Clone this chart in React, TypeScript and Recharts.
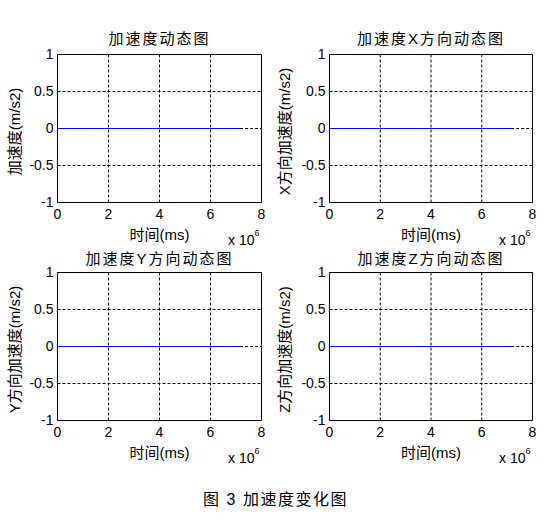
import React from 'react';
import { LineChart, Line, XAxis, YAxis, CartesianGrid, ReferenceArea, ReferenceLine } from 'recharts';

// ---- data ----
const TIME_MS = [0, 7160000];
const ACCEL = [0, 0];
const ACCEL_X = [0, 0];
const ACCEL_Y = [0, 0];
const ACCEL_Z = [0, 0];

const X_TICKS = [0, 2000000, 4000000, 6000000, 8000000];
const X_TICK_LABELS = ['0', '2', '4', '6', '8'];
const Y_TICKS = [-1, -0.5, 0, 0.5, 1];
const Y_TICK_LABELS = ['-1', '-0.5', '0', '0.5', '1'];

const TITLES = ['加速度动态图', '加速度X方向动态图', '加速度Y方向动态图', '加速度Z方向动态图'];
const Y_LABELS = ['加速度(m/s2)', 'X方向加速度(m/s2)', 'Y方向加速度(m/s2)', 'Z方向加速度(m/s2)'];
const X_LABEL = '时间(ms)';
const X_EXP_BASE = 'x 10';
const X_EXP = '6';
const CAPTION = '图 3 加速度变化图';

const SERIES = [ACCEL, ACCEL_X, ACCEL_Y, ACCEL_Z];

// ---- layout ----
const FONT = "'Liberation Sans', Arial, 'Noto Sans CJK SC', sans-serif";
const LAYOUT = [
  { L: 57, T: 54, W: 204, H: 148, ylx: 14.5, tt: 30.5 },
  { L: 329, T: 54, W: 203, H: 148, ylx: 284, tt: 30.5 },
  { L: 57, T: 272, W: 204, H: 148, ylx: 14.5, tt: 250.5 },
  { L: 329, T: 272, W: 203, H: 148, ylx: 284, tt: 250.5 },
];
const YW = 55;
const XH = 50;
const X_MAX = X_TICKS[X_TICKS.length - 1];
const Y_MIN = Y_TICKS[0];
const Y_MAX = Y_TICKS[Y_TICKS.length - 1];

function Panel({ idx }: { idx: number }) {
  const { L, T, W, H, ylx, tt } = LAYOUT[idx];
  const offX = L - YW;
  const offY = T - 10;
  const width = 66 + W;
  const height = 61 + H;
  const plotLeft = 55.5;
  const plotTop = 10.5;
  const plotBottom = plotTop + H;
  const plotRight = plotLeft + W;
  const plotCx = plotLeft + W / 2;
  const series = SERIES[idx];
  const data = TIME_MS.map((t, i) => ({ t, v: series[i] }));
  const lastT = TIME_MS[TIME_MS.length - 1];
  const lastV = series[series.length - 1];

  const ylabCx = ylx - offX;
  const ylabCy = plotTop + H / 2 + 3;

  const yLabel = () => (
    <text
      x={ylabCx}
      y={ylabCy}
      transform={`rotate(-90 ${ylabCx} ${ylabCy})`}
      textAnchor="middle"
      dominantBaseline="central"
      fontSize={15}
      fontFamily={FONT}
      fill="#000"
    >
      {Y_LABELS[idx]}
    </text>
  );

  const xLabel = () => (
    <g>
      <text x={plotCx} y={plotBottom + 37.5} textAnchor="middle" fontSize={15} fontFamily={FONT} fill="#000">
        {X_LABEL}
      </text>
      <text x={plotRight - 33.5} y={plotBottom + 42} fontSize={14} fontFamily={FONT} fill="#000">
        <tspan>{X_EXP_BASE}</tspan>
        <tspan fontSize={9} dy={-8.5}>{X_EXP}</tspan>
      </text>
    </g>
  );

  const innerGridY = Y_TICKS.filter((v) => v !== Y_MIN && v !== Y_MAX && v !== lastV);

  return (
    <>
      <div
        style={{
          position: 'absolute',
          left: L + 0.5 + W / 2 - 150,
          top: tt,
          width: 300,
          textAlign: 'center',
          fontSize: 15,
          lineHeight: '15px',
          letterSpacing: 2,
          whiteSpace: 'nowrap',
          color: '#000',
        }}
      >
        {TITLES[idx]}
      </div>
      <div style={{ position: 'absolute', left: offX, top: offY, width, height }}>
        <LineChart
          id={`accel-panel-${idx}`}
          width={width}
          height={height}
          data={data}
          margin={{ top: 10.5, left: 0.5, right: 10.5, bottom: 0.5 }}
        >
          <CartesianGrid stroke="#000" strokeDasharray="3 2" strokeWidth={1} horizontal={false} />
          <XAxis
            dataKey="t"
            type="number"
            domain={[0, X_MAX]}
            ticks={X_TICKS}
            interval={0}
            tickFormatter={(v: number) => X_TICK_LABELS[X_TICKS.indexOf(v)]}
            axisLine={false}
            tickLine={false}
            tickSize={0}
            tickMargin={7}
            height={XH}
            tick={{ fill: '#000', fontSize: 14, fontFamily: FONT }}
            label={xLabel}
          />
          <YAxis
            type="number"
            domain={[Y_MIN, Y_MAX]}
            ticks={Y_TICKS}
            interval={0}
            tickFormatter={(v: number) => Y_TICK_LABELS[Y_TICKS.indexOf(v)]}
            axisLine={false}
            tickLine={false}
            tickSize={0}
            tickMargin={4}
            width={YW}
            tick={{ fill: '#000', fontSize: 14, fontFamily: FONT }}
            label={yLabel}
          />
          {innerGridY.map((v) => (
            <ReferenceLine key={v} y={v} stroke="#000" strokeDasharray="3 2" strokeWidth={1} />
          ))}
          <ReferenceLine
            segment={[
              { x: lastT, y: lastV },
              { x: X_MAX, y: lastV },
            ]}
            stroke="#000"
            strokeDasharray="3 2"
            strokeWidth={1}
          />
          <ReferenceArea
            x1={0}
            x2={X_MAX}
            y1={Y_MIN}
            y2={Y_MAX}
            stroke="#000"
            strokeWidth={1}
            fill="none"
            fillOpacity={0}
            ifOverflow="visible"
          />
          <Line
            dataKey="v"
            stroke="#0000ff"
            strokeWidth={1}
            dot={false}
            activeDot={false}
            isAnimationActive={false}
          />
        </LineChart>
      </div>
    </>
  );
}

export default function App() {
  return (
    <div
      style={{
        position: 'absolute',
        left: 0,
        top: 0,
        width: 556,
        height: 531,
        background: '#fff',
        fontFamily: FONT,
        overflow: 'hidden',
      }}
    >
      {LAYOUT.map((_, i) => (
        <Panel key={i} idx={i} />
      ))}
      <div
        style={{
          position: 'absolute',
          left: 0,
          top: 492,
          width: 551,
          textAlign: 'center',
          fontSize: 16,
          lineHeight: '16px',
          letterSpacing: 1.5,
          whiteSpace: 'nowrap',
          color: '#000',
        }}
      >
        {CAPTION}
      </div>
    </div>
  );
}
